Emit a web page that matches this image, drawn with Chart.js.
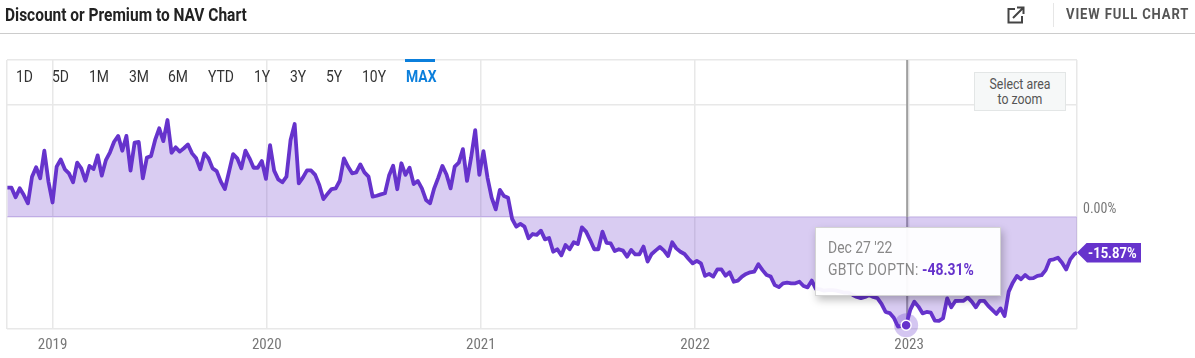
<!DOCTYPE html>
<html><head><meta charset="utf-8">
<script src="https://cdn.jsdelivr.net/npm/chart.js@4"></script>
<style>
html,body{margin:0;padding:0;background:#fff;width:1195px;height:358px;overflow:hidden;font-family:Roboto,sans-serif}
#wrap{position:relative;width:1195px;height:358px}
canvas{position:absolute;left:0;top:0}
.t{position:absolute;white-space:nowrap;transform-origin:left center;transform:scaleX(.87)}
#title{left:5px;top:4px;font-size:18px;line-height:22px;font-weight:700;color:#222;transform:scaleX(.86)}
#rule{position:absolute;left:0;top:33px;width:1195px;height:1px;background:#ccc}
#vr{position:absolute;left:1053px;top:3px;width:1px;height:24px;background:#e6e6e6}
#full{left:1066px;top:4px;font-size:15px;line-height:20px;font-weight:700;color:#555;letter-spacing:1px}
.r{top:67px;font-size:16px;line-height:20px;color:#333}
#bar{position:absolute;left:405px;top:59px;width:30px;height:3px;background:#0b7fdc}
#zoom{position:absolute;left:974px;top:72px;width:90px;height:37px;background:#f6f8f8;border:1px solid #e3e6e6;color:#555;font-size:14px;line-height:15px;text-align:center}
#zoom div{transform:scaleX(.88);padding-top:4px}
#tip{position:absolute;left:815px;top:227px;width:184px;height:67px;background:rgba(255,255,255,.95);border:1px solid #d4d4d4;box-shadow:2px 4px 8px rgba(0,0,0,.25)}
#tag{position:absolute;left:1077px;width:64px;height:20px;background:#6633cc;clip-path:polygon(0 50%,10px 0,100% 0,100% 100%,10px 100%)}
</style></head><body>
<div id="wrap">
<canvas id="c" width="1195" height="358"></canvas>
<div id="title" class="t">Discount or Premium to NAV Chart</div>
<div id="rule"></div>
<svg style="position:absolute;left:1007px;top:6px" width="18" height="18" viewBox="0 0 18 18" fill="none" stroke="#444" stroke-width="2"><path d="M8 3H1.500V16.500H15V10"/><path d="M6 12L16 2M10 1.500H16.500V8"/></svg>
<div id="vr"></div>
<div id="full" class="t">VIEW FULL CHART</div>
<div id="ranges"></div>
<div id="bar"></div>
<div id="zoom"><div>Select area<br>to zoom</div></div>
<div id="tip"></div>
<div class="t" style="left:828px;top:238px;font-size:16px;line-height:20px;color:#888" id="tipDate"></div>
<div class="t" style="left:828px;top:260px;font-size:16px;line-height:20px;color:#888"><span id="tipName" style="letter-spacing:.3px"></span>&nbsp;<b id="tipVal" style="color:#6633cc"></b></div>
<div id="tag"></div>
<div class="t" id="tagText" style="left:1088px;font-size:15px;line-height:20px;font-weight:700;color:#fff"></div>
</div>
<script>
const rangeLabels=['1D','5D','1M','3M','6M','YTD','1Y','3Y','5Y','10Y','MAX'];
const rangeLefts=[16,52,89,129,168,208,254,290,326,362,406];
const yearTicks=[2019,2020,2021,2022,2023];
const seriesName='GBTC DOPTN';
const hoverDate="Dec 27 '22";
const hoverIndex=219;
const hoverYear=2022.986;
const xMin=2018.787, xMax=2023.784;
const yMin=-50, yMax=70.1;
const yTicks=[70.1,50,0,-50];
const discount=[
13.1,13.1,8.8,12.8,9.8,6.1,18.0,22.2,17.3,29.6,
15.8,6.5,22.5,25.7,21.3,19.5,15.5,24.3,21.7,16.2,
22.8,21.4,27.5,18.5,25.4,28.9,33.6,36.2,29.6,36.2,
20.7,33.2,33.5,17.3,26.6,27.2,34.4,39.6,33.9,43.3,
28.7,31.1,29.2,30.7,32.4,28.4,26.2,21.3,28.4,26.2,
21.7,20.5,15.8,12.5,20.2,28.1,26.2,21.7,29.6,26.2,
22.0,22.0,25.0,17.0,32.1,20.7,16.8,15.5,18.0,34.4,
41.5,15.0,17.6,20.8,20.8,18.8,14.3,8.0,10.3,12.5,
12.8,16.2,26.2,22.5,19.5,19.9,23.5,19.9,18.0,9.1,
9.5,10.1,10.6,18.5,22.9,12.4,24.0,18.8,22.0,14.7,
16.1,12.8,7.6,6.1,12.8,17.6,22.8,19.0,12.8,22.5,
24.3,30.3,16.1,26.6,38.8,18.8,29.4,17.5,8.7,3.4,
12.1,9.4,8.6,-0.9,-4.3,-3.1,-4.3,-9.5,-7.6,-8.0,
-6.1,-10,-9.4,-15.5,-14.4,-17.1,-12.5,-14.4,-11.3,-12.1,
-4.6,-6.5,-10.3,-14.4,-14.4,-6.5,-11.5,-11.8,-15.2,-14.4,
-15,-17.7,-14.7,-16.7,-16.7,-13.2,-19.9,-16.5,-14.9,-13.4,
-15,-17.4,-11.3,-14,-15.5,-16.5,-18.75,-20.7,-19.6,-20.7,
-26.3,-25.4,-26.6,-23.4,-23.4,-26.2,-24.7,-28.9,-28.4,-26.6,
-25.4,-24.7,-24.4,-21.1,-23.7,-25.9,-26.6,-30.4,-31.3,-29.6,
-29.3,-29.6,-29.6,-28.9,-30.8,-31.4,-28.4,-32.1,-32.3,-32.9,
-32.6,-32.6,-32.9,-33.3,-33.8,-33.8,-34.8,-35.7,-36.2,-35.7,
-34.8,-35.7,-36.2,-38.8,-42.4,-42.9,-45,-48.9,-48.6,-48.31,
-41.5,-37.8,-40,-43,-42.4,-42.7,-46.3,-46.4,-45.2,-36.3,
-40.3,-37.5,-37.4,-37.4,-35.9,-37.8,-40.3,-37.4,-37.4,-39.7,
-41.5,-43.3,-40.8,-44.2,-33.3,-29.3,-26.3,-27.8,-25.9,-27.4,
-27.3,-26.3,-26,-23.7,-19.2,-18.9,-18.2,-20.4,-23.4,-18.9,
-16.6,-15.87];

const PURPLE='#6633cc';
const AXISFONT="'Roboto Condensed','Liberation Sans Narrow',Roboto,sans-serif";
const points=discount.map((v,i)=>({x:Math.min(xMax,hoverYear+(i-hoverIndex)*7/365.25),y:v}));
const fmt=v=>v.toFixed(2)+'%';

document.getElementById('ranges').innerHTML=rangeLabels.map((l,i)=>{
 const on=l==='MAX';
 return `<div class="t r" style="left:${rangeLefts[i]}px;${on?'font-weight:700;color:#0b7fdc':''}">${l}</div>`;
}).join('');

const crosshair={id:'crosshair',beforeDatasetsDraw(ch){
 const x=ch.scales.x.getPixelForValue(hoverYear)+1,{top}=ch.chartArea,yy=ch.scales.y.getPixelForValue(discount[hoverIndex]);
 const c=ch.ctx;c.save();c.strokeStyle='#a0a0a0';c.lineWidth=2;c.beginPath();c.moveTo(x,top);c.lineTo(x,yy);c.stroke();c.restore();
}};

const chart=new Chart(document.getElementById('c'),{
 type:'line',
 plugins:[crosshair],
 data:{datasets:[
  {data:[points[hoverIndex]],pointRadius:12,pointBackgroundColor:'rgba(102,51,204,.28)',pointBorderWidth:0,showLine:false,clip:false,order:1},
  {data:[points[hoverIndex]],pointRadius:5,pointBackgroundColor:PURPLE,pointBorderColor:'#fff',pointBorderWidth:1.5,showLine:false,clip:false,order:0},
  {data:points,borderColor:PURPLE,borderWidth:3.8,borderJoinStyle:'round',pointRadius:0,tension:0,fill:{value:0},backgroundColor:'rgba(102,51,204,.25)',order:2}
 ]},
 options:{
  responsive:false,animation:false,events:[],
  layout:{autoPadding:false,padding:{left:6,top:60,right:0,bottom:0}},
  plugins:{legend:{display:false},tooltip:{enabled:false}},
  scales:{
   x:{type:'linear',min:xMin,max:xMax,
    afterBuildTicks(s){s.ticks=[xMin,...yearTicks,xMax].map(v=>({value:v}));},
    afterFit(s){s.height=29;},
    grid:{color:'#e8e8e8',lineWidth:1.5,drawTicks:false},border:{display:false},
    ticks:{autoSkip:false,maxRotation:0,padding:7,color:'#777',font:{family:AXISFONT,size:15},callback:v=>yearTicks.includes(v)?String(v):''}},
   y:{position:'right',min:yMin,max:yMax,
    afterBuildTicks(s){s.ticks=yTicks.map(v=>({value:v}));},
    afterFit(s){s.width=118;},
    grid:{color:c=>c.tick&&c.tick.value===0?'#ddd5ee':'#e8e8e8',lineWidth:1.5,drawTicks:false},border:{display:false},
    ticks:{autoSkip:false,padding:6,color:'#777',font:{family:AXISFONT,size:14,lineHeight:1.14},callback:v=>v===0?['0.00%','']:''}}
  }
 }
});
const last=discount[discount.length-1];
document.getElementById('tipDate').textContent=hoverDate;
document.getElementById('tipName').textContent=seriesName+':';
document.getElementById('tipVal').textContent=fmt(discount[hoverIndex]);
const ly=chart.scales.y.getPixelForValue(last);
document.getElementById('tag').style.top=(ly-10)+'px';
const tt=document.getElementById('tagText');tt.textContent=fmt(last);tt.style.top=(ly-10)+'px';
</script>
</body></html>
